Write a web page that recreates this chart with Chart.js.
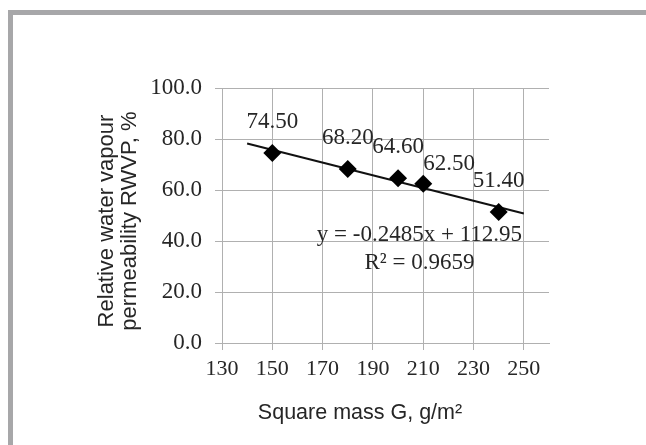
<!DOCTYPE html>
<html>
<head>
<meta charset="utf-8">
<script src="https://cdn.jsdelivr.net/npm/chart.js@4"></script>
<style>
  html, body { margin: 0; padding: 0; background: #fff; }
  #wrap { position: relative; width: 646px; height: 445px; overflow: hidden; }
  #frame { position: absolute; left: 8px; top: 10px; width: 700px; height: 500px;
           border-top: 5px solid #a7a7a9; border-left: 5px solid #a7a7a9; pointer-events: none; }
  canvas { position: absolute; left: 0; top: 0; }
</style>
</head>
<body>
<div id="wrap">
  <canvas id="chart" width="646" height="445"></canvas>
  <div id="frame"></div>
</div>
<script>
const squareMass = [150, 180, 200, 210, 240];
const rwvp = [74.5, 68.2, 64.6, 62.5, 51.4];
// trendline ends
const trendMass = [140, 250];
const trendRwvp = [78.2, 50.8];
const xTickValues = [130, 150, 170, 190, 210, 230, 250];
const yTickValues = [0, 20, 40, 60, 80, 100];
const equationLines = ['y = -0.2485x + 112.95', 'R\u00b2 = 0.9659'];
const xTitle = 'Square mass G, g/m\u00b2';
const yTitle = ['Relative water vapour', 'permeability RWVP, %'];

const textColor = '#262626';
const gridColor = '#b0b0b0';
const serif = '"Liberation Serif", "Times New Roman", serif';
const sans = '"Liberation Sans", Arial, sans-serif';

Chart.defaults.color = textColor;

let annotate = {
    id: 'annotate',
    afterDatasetsDraw(chart) {
        let ctx = chart.ctx;
        let xs = chart.scales.x, ys = chart.scales.y;
        let meta = chart.getDatasetMeta(0);
        ctx.save();
        ctx.fillStyle = textColor;
        ctx.textAlign = 'center';
        ctx.textBaseline = 'middle';
        ctx.font = '23px ' + serif;
        meta.data.forEach((pt, i) => {
            let dx = 0, dy = -31;
            if (i === 3) { dx = 26; dy = -20; } // 62.50 sits off to the right
            ctx.fillText(rwvp[i].toFixed(2), pt.x + dx, pt.y + dy);
        });
        ctx.fillText(equationLines[0], xs.getPixelForValue(208.5), ys.getPixelForValue(42.5));
        ctx.fillText(equationLines[1], xs.getPixelForValue(208.5), ys.getPixelForValue(31.5));

        ctx.font = '21.5px ' + sans;
        ctx.fillText(xTitle, chart.chartArea.left + 138, chart.chartArea.bottom + 70);
        ctx.restore();
    }
};

let pointsData = squareMass.map((m, i) => ({ x: m, y: rwvp[i] }));
let trendData = trendMass.map((m, i) => ({ x: m, y: trendRwvp[i] }));

new Chart(document.getElementById('chart').getContext('2d'), {
    type: 'scatter',
    data: {
        datasets: [
            {
                label: 'RWVP',
                data: pointsData,
                pointStyle: 'rectRot',
                pointRadius: 9,
                backgroundColor: '#000',
                borderColor: '#000',
                borderWidth: 0
            },
            {
                label: 'Trend',
                type: 'line',
                data: trendData,
                showLine: true,
                pointRadius: 0,
                borderColor: '#111',
                borderWidth: 2,
                fill: false
            }
        ]
    },
    options: {
        responsive: false,
        animation: false,
        devicePixelRatio: 1,
        layout: { padding: { left: 95, top: 88, right: 97, bottom: 60 } },
        plugins: {
            legend: { display: false },
            tooltip: { enabled: false }
        },
        scales: {
            x: {
                type: 'linear',
                min: 130,
                max: 260,
                afterBuildTicks: s => { s.ticks = xTickValues.map(v => ({ value: v })); },
                afterFit: s => { s.height = 42; },
                ticks: { font: { family: serif, size: 22 }, color: textColor, padding: 6, maxRotation: 0 },
                grid: { color: gridColor, tickLength: 7, lineWidth: 1 },
                border: { color: gridColor }
            },
            y: {
                min: 0,
                max: 100,
                afterBuildTicks: s => { s.ticks = yTickValues.map(v => ({ value: v })); },
                afterFit: s => { s.width = 127; },
                ticks: {
                    font: { family: serif, size: 23 },
                    color: textColor,
                    padding: 13,
                    callback: v => Number(v).toFixed(1)
                },
                grid: { color: gridColor, tickLength: 7, lineWidth: 1 },
                border: { color: gridColor },
                title: {
                    display: true,
                    // en space at the end nudges the centred lines down a little
                    text: yTitle.map(t => t + '\u2002'),
                    font: { family: sans, size: 22, lineHeight: 1.05 },
                    color: textColor,
                    padding: 0
                }
            }
        }
    },
    plugins: [annotate]
});
</script>
</body>
</html>
